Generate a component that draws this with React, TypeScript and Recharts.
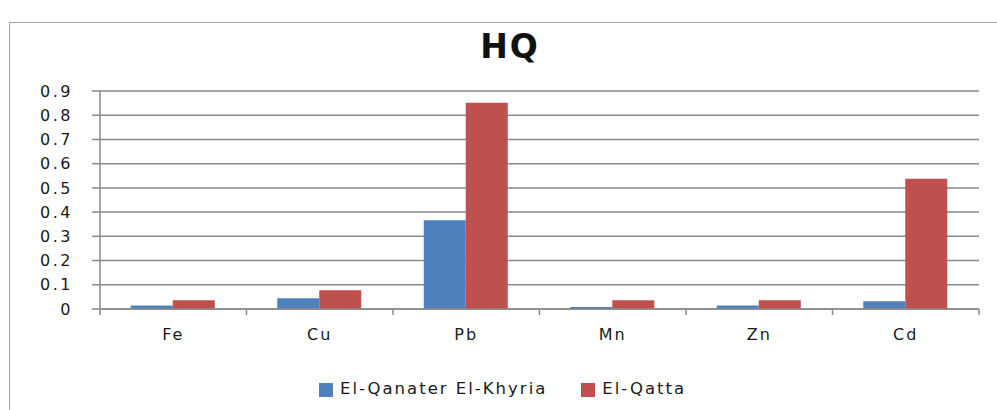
import React from 'react';
import {
  BarChart,
  Bar,
  XAxis,
  YAxis,
  CartesianGrid,
  Legend
} from 'recharts';

const ELEMENTS = ['Fe', 'Cu', 'Pb', 'Mn', 'Zn', 'Cd'];
const QANATER = [0.014, 0.044, 0.366, 0.008, 0.014, 0.032];
const QATTA = [0.036, 0.077, 0.851, 0.036, 0.036, 0.538];
const Y_TICKS = [0, 0.1, 0.2, 0.3, 0.4, 0.5, 0.6, 0.7, 0.8, 0.9];

const data = ELEMENTS.map((name, i) => ({
  name,
  qanater: QANATER[i],
  qatta: QATTA[i]
}));

const FONT = '"DejaVu Sans", Verdana, sans-serif';
const AXIS_GREY = '#8a8a8a';

// category label plus tick marks on the band edges (Excel style)
const CategoryTick = (props: any) => {
  const { x, y, payload, index } = props;
  const half = payload && payload.offset ? payload.offset : 0;
  const axisY = y - 8;
  return (
    <g>
      {half > 0 && (
        <line x1={x - half} x2={x - half} y1={axisY} y2={axisY + 6} stroke={AXIS_GREY} strokeWidth={1.5} />
      )}
      {half > 0 && index === ELEMENTS.length - 1 && (
        <line x1={x + half} x2={x + half} y1={axisY} y2={axisY + 6} stroke={AXIS_GREY} strokeWidth={1.5} />
      )}
      <text
        x={x}
        y={y + 23}
        textAnchor="middle"
        fill="#1a1a1a"
        fontSize={16}
        fontFamily={FONT}
        letterSpacing={2}
      >
        {payload.value}
      </text>
    </g>
  );
};

export default function App() {
  return (
    <div style={{ position: 'absolute', left: 0, top: 0, width: 997, height: 410, background: '#fff', overflow: 'hidden' }}>
      <div
        style={{
          position: 'absolute',
          left: 9,
          top: 22,
          width: 1000,
          height: 420,
          border: '1.5px solid #a6a6a6',
          boxSizing: 'border-box'
        }}
      />
      <div
        style={{
          position: 'absolute',
          left: 0,
          width: 1020,
          top: 27,
          textAlign: 'center',
          fontFamily: FONT,
          fontWeight: 'bold',
          fontSize: 33,
          letterSpacing: 2,
          color: '#111'
        }}
      >
        HQ
      </div>
      <div style={{ position: 'absolute', left: 0, top: 0 }}>
        <BarChart
          width={997}
          height={410}
          data={data}
          margin={{ top: 91, right: 18, bottom: 42, left: 40 }}
          barGap={0}
          barCategoryGap="21%"
        >
          <CartesianGrid vertical={false} stroke={AXIS_GREY} strokeWidth={1.5} />
          <XAxis
            dataKey="name"
            axisLine={{ stroke: AXIS_GREY, strokeWidth: 1.5 }}
            tickLine={false}
            tick={<CategoryTick />}
            interval={0}
            height={40}
          />
          <YAxis
            domain={[0, 0.9]}
            ticks={Y_TICKS}
            interval={0}
            width={60}
            axisLine={{ stroke: AXIS_GREY, strokeWidth: 1.5 }}
            tickLine={{ stroke: AXIS_GREY, strokeWidth: 1.5 }}
            tickSize={8}
            tickMargin={19}
            tick={{ fill: '#1a1a1a', fontSize: 16, fontFamily: FONT, letterSpacing: 2.5 }}
            tickFormatter={(v: number) => (v === 0 ? '0' : v.toFixed(1))}
          />
          <Legend
            verticalAlign="bottom"
            iconType="square"
            iconSize={14}
            wrapperStyle={{ bottom: 12, left: 50, fontFamily: FONT, fontSize: 16.5, letterSpacing: 2 }}
            formatter={(value: string) => <span style={{ color: '#1a1a1a', marginLeft: 3, marginRight: 24 }}>{value}</span>}
          />
          <Bar dataKey="qanater" name="El-Qanater El-Khyria" fill="#4f81bd" isAnimationActive={false} />
          <Bar dataKey="qatta" name="El-Qatta" fill="#c0504d" isAnimationActive={false} />
        </BarChart>
      </div>
    </div>
  );
}
